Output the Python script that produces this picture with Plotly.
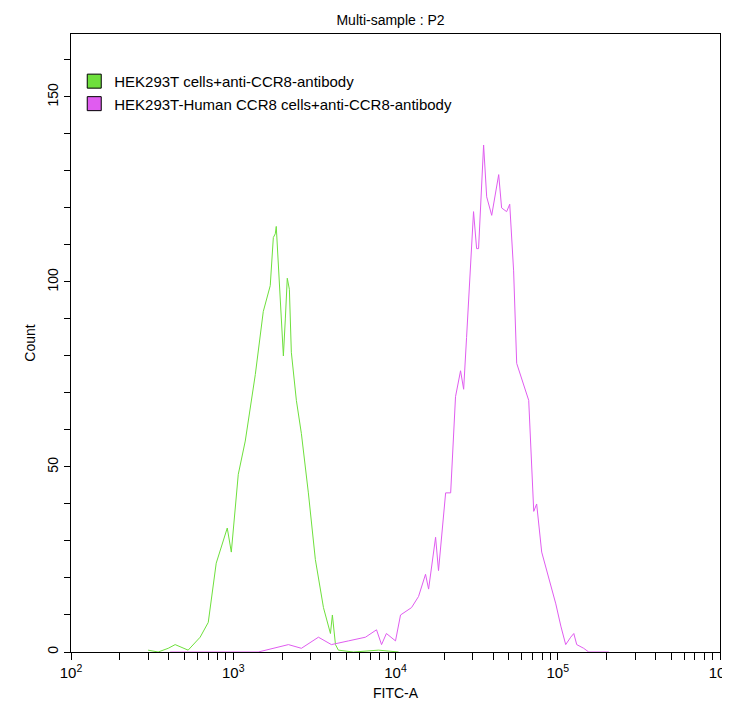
import plotly.graph_objects as go

# log10(FITC-A) and counts
green_log = [2.475, 2.537, 2.599, 2.642, 2.722, 2.796, 2.846, 2.895, 2.938, 2.963, 2.988, 3.031, 3.074,
             3.136, 3.185, 3.228, 3.247, 3.259, 3.265, 3.284, 3.296, 3.309, 3.321, 3.333, 3.346, 3.358,
             3.389, 3.420, 3.463, 3.506, 3.556, 3.599, 3.611, 3.630, 3.648, 3.741, 3.895, 4.019]
green_cnt = [0.5, 0, 1, 2, 0.5, 4, 8, 24, 30, 33.5, 27, 48, 57,
             75, 92, 99, 112, 113, 115, 100, 88, 80, 90, 101, 98, 81,
             68, 59, 43, 25, 12, 5, 10, 2, 0.5, 0, 0.5, 0]

magenta_log = [2.611, 2.846, 3.154, 3.340, 3.420, 3.525, 3.605, 3.710, 3.815, 3.883, 3.914, 3.944, 4.000,
               4.031, 4.099, 4.142, 4.185, 4.204, 4.247, 4.265, 4.309, 4.340, 4.370, 4.401, 4.420, 4.438,
               4.463, 4.481, 4.500, 4.512, 4.543, 4.562, 4.593, 4.636, 4.654, 4.685, 4.704, 4.728, 4.747,
               4.778, 4.821, 4.852, 4.870, 4.901, 4.944, 4.988, 5.019, 5.049, 5.080, 5.099, 5.117, 5.160,
               5.191, 5.315]
magenta_cnt = [0, 0, 0, 2, 1, 4, 2, 3, 4, 6, 2, 5, 3,
               10, 12, 15, 21, 17, 31, 22, 43, 43, 69, 76, 71, 85,
               105, 119, 109, 109, 137, 123, 118, 129, 120, 119, 121, 103, 78,
               74, 68, 38, 40, 27, 20, 13, 7, 2, 4, 5, 2, 1,
               0, 0]

green = "#6ee03c"
magenta = "#e05cf0"
font = "Liberation Sans, Arial, sans-serif"

fig = go.Figure()
fig.add_trace(go.Scatter(x=[10 ** v for v in green_log], y=green_cnt, mode="lines",
                         line=dict(color=green, width=1), showlegend=False))
fig.add_trace(go.Scatter(x=[10 ** v for v in magenta_log], y=magenta_cnt, mode="lines",
                         line=dict(color=magenta, width=1), showlegend=False))

# legend swatches
for name, col in [("HEK293T cells+anti-CCR8-antibody", green),
                  ("HEK293T-Human CCR8 cells+anti-CCR8-antibody", magenta)]:
    fig.add_trace(go.Scatter(x=[None], y=[None], mode="markers", name=name,
                             marker=dict(symbol="square", size=14, color=col, line=dict(color="black", width=1))))

fig.update_layout(
    width=730, height=707,
    margin=dict(l=63, r=18, t=26, b=63, autoexpand=False),
    paper_bgcolor="white", plot_bgcolor="white",
    font=dict(family=font, size=14, color="black"),
    title=dict(text="Multi-sample : P2", x=0.524, xanchor="center", y=0.99, yanchor="top",
               font=dict(size=14)),
    legend=dict(x=0.005, y=0.95, xanchor="left", yanchor="top", bgcolor="rgba(0,0,0,0)",
                font=dict(size=15), itemwidth=30, tracegroupgap=0),
)
fig.update_xaxes(
    type="log", range=[2, 6], showgrid=False, zeroline=False, automargin=False,
    showline=True, linecolor="black", linewidth=1, mirror=True,
    ticks="outside", ticklen=7, tickcolor="black",
    tickvals=[100, 1000, 10000, 100000, 1000000],
    ticktext=["10<sup>2</sup>", "10<sup>3</sup>", "10<sup>4</sup>", "10<sup>5</sup>", "10<sup>6</sup>"],
    tickfont=dict(size=15),
    minor=dict(ticks="outside", ticklen=7, tickcolor="black", dtick="D1", showgrid=False),
    title=dict(text="FITC-A", font=dict(size=14), standoff=8),
)
fig.update_yaxes(
    range=[0, 167], showgrid=False, zeroline=False, automargin=False,
    showline=True, linecolor="black", linewidth=1, mirror=True,
    ticks="outside", ticklen=6, tickcolor="black",
    tickvals=[0, 50, 100, 150], tickangle=-90, tickfont=dict(size=14),
    minor=dict(ticks="outside", ticklen=6, tickcolor="black", dtick=10, showgrid=False),
    title=dict(text="Count", font=dict(size=14), standoff=6),
)

fig.write_html("out.html")
